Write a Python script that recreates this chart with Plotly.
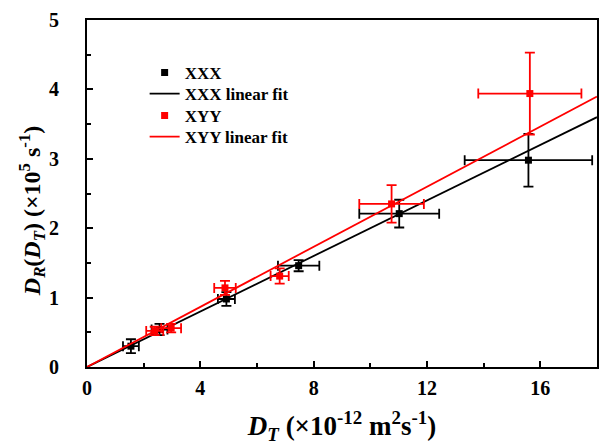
import plotly.graph_objects as go
import numpy as np

# XXX data
xxx_x = [1.55, 2.56, 4.92, 7.47, 11.02, 15.58]
xxx_y = [0.30, 0.54, 0.98, 1.46, 2.21, 2.98]
xxx_xerr = [0.28, 0.28, 0.30, 0.73, 1.41, 2.25]
xxx_yerr = [0.10, 0.08, 0.10, 0.08, 0.20, 0.38]

# XYY data
xyy_x = [2.39, 2.97, 4.87, 6.80, 10.75, 15.63]
xyy_y = [0.52, 0.56, 1.14, 1.31, 2.35, 3.94]
xyy_xerr = [0.30, 0.35, 0.38, 0.32, 1.14, 1.82]
xyy_yerr = [0.06, 0.06, 0.10, 0.11, 0.27, 0.59]

# linear fit slopes (through origin)
xxx_slope = 0.200
xyy_slope = 0.2165
fit_x = np.array([0.0, 18.0])

serif = "Liberation Serif"

fig = go.Figure()

fig.add_trace(go.Scatter(
    x=xxx_x, y=xxx_y, mode="markers", name="<b>XXX</b>", legend="legend",
    marker=dict(symbol="square", size=7, color="black"),
    error_x=dict(type="data", array=xxx_xerr, color="black", thickness=1.8, width=5),
    error_y=dict(type="data", array=xxx_yerr, color="black", thickness=1.8, width=5),
))
fig.add_trace(go.Scatter(
    x=fit_x, y=xxx_slope * fit_x, mode="lines", name="<b>XXX linear fit</b>", legend="legend2",
    line=dict(color="black", width=1.8),
))
fig.add_trace(go.Scatter(
    x=xyy_x, y=xyy_y, mode="markers", name="<b>XYY</b>", legend="legend3",
    marker=dict(symbol="square", size=7, color="#ff0000"),
    error_x=dict(type="data", array=xyy_xerr, color="#ff0000", thickness=1.8, width=5),
    error_y=dict(type="data", array=xyy_yerr, color="#ff0000", thickness=1.8, width=5),
))
fig.add_trace(go.Scatter(
    x=fit_x, y=xyy_slope * fit_x, mode="lines", name="<b>XYY linear fit</b>", legend="legend4",
    line=dict(color="#ff0000", width=1.8),
))

axis_common = dict(
    showline=True, linecolor="black", linewidth=1.8, mirror=True,
    ticks="inside", ticklen=6, tickwidth=1.5, tickcolor="black",
    showgrid=False, zeroline=False,
    tickfont=dict(family=serif, size=20, color="black", weight="bold"),
)


def leg(row_px):
    return dict(
        x=0.113, y=(367 - row_px) / 347, xanchor="left", yanchor="middle",
        bgcolor="rgba(0,0,0,0)", borderwidth=0,
        font=dict(family=serif, size=17, color="black"),
        itemwidth=30,
    )


fig.update_layout(
    width=600, height=445,
    margin=dict(l=87, r=1, t=20, b=78),
    plot_bgcolor="white", paper_bgcolor="white",
    showlegend=True,
    legend=leg(73), legend2=leg(94), legend3=leg(116), legend4=leg(137),
    xaxis=dict(
        range=[0, 18], tickvals=[0, 4, 8, 12, 16],
        minor=dict(tickvals=[2, 6, 10, 14], ticks="inside", ticklen=4, tickwidth=1.5, tickcolor="black"),
        ticklabelstandoff=2,
        title=dict(
            text="<b><i>D</i><sub><i>T</i></sub> (×10<sup>-12</sup> m<sup>2</sup>s<sup>-1</sup>)</b>",
            font=dict(family=serif, size=27, color="black"), standoff=22,
        ),
        **axis_common,
    ),
    yaxis=dict(
        range=[0, 5], tickvals=[0, 1, 2, 3, 4, 5],
        minor=dict(tickvals=[0.5, 1.5, 2.5, 3.5, 4.5], ticks="inside", ticklen=4, tickwidth=1.5, tickcolor="black"),
        ticklabelstandoff=22,
        **axis_common,
    ),
    annotations=[dict(
        text="<b><i>D</i><sub><i>R</i></sub>(<i>D</i><sub><i>T</i></sub>) (×10<sup>5</sup> s<sup>-1</sup>)</b>",
        font=dict(family=serif, size=24, color="black"),
        textangle=-90, xref="paper", yref="paper",
        x=-(87 - 32) / 512, y=(367 - 211) / 347,
        xanchor="center", yanchor="middle", showarrow=False,
    )],
)

fig.write_html("out.html", post_script="document.body.style.margin='0';",
               config={"displayModeBar": False})
